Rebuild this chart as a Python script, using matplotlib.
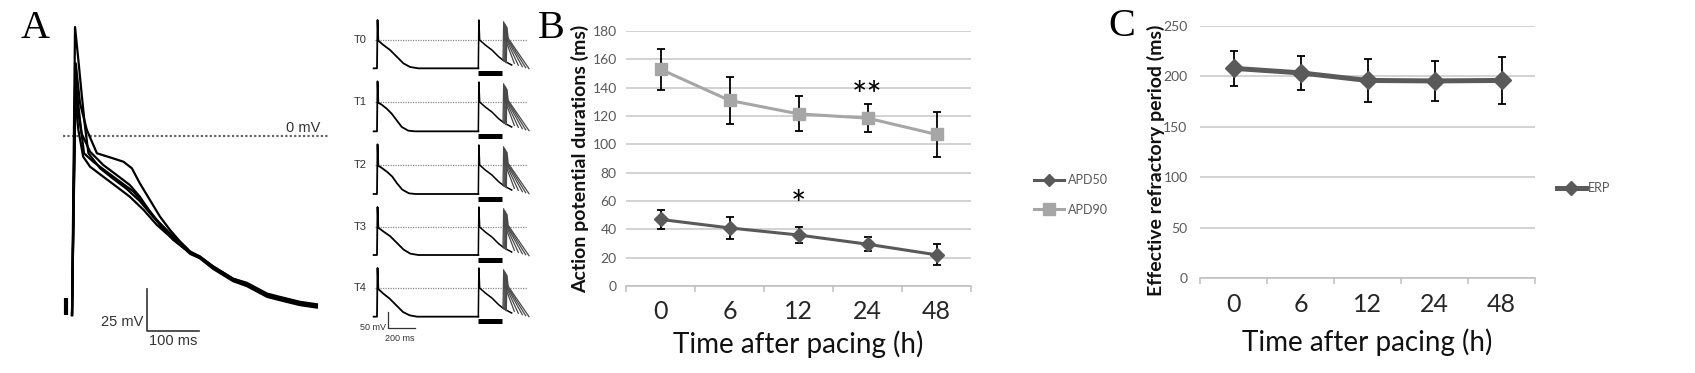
import matplotlib
matplotlib.use("Agg")
import matplotlib.pyplot as plt
from matplotlib.lines import Line2D
import numpy as np

W, H = 1695, 373

# ---- panel B / C data ----
hours = ["0", "6", "12", "24", "48"]
apd50 = [47, 41, 36, 29.5, 22]
apd50_err = [7, 7.6, 5.7, 5, 7.5]
apd90 = [153, 131, 121.5, 118.5, 107]
apd90_err = [14.5, 16.5, 12.3, 10, 15.7]
erp = [208, 203.5, 196, 195.5, 196]
erp_err = [17.5, 16.5, 21.5, 20, 23]

# ---- panel A, superimposed action potentials (ms, mV) ----
ap_tall_t = [0, 5.7, 12, 18, 24.5, 31, 53, 78, 103, 128, 153, 185, 223, 241, 266, 304, 330, 368, 392, 430, 462]
ap_tall_v = [-108.5, 66, 46, 26, 5.6, -10.5, -19.6, -26, -32, -39.5, -49, -60, -71.5, -74, -80, -87.5, -90.5, -97, -99, -102, -103]
ap_high_t = [0, 7, 15, 28, 47, 72, 97, 113, 128, 147, 166, 185, 204, 223, 241, 266, 304, 330, 368, 392, 430, 462]
ap_high_v = [-108.5, 44, 20, 3.6, -10.5, -13, -15.6, -19.6, -28.7, -38.8, -48.9, -57, -64, -70, -73, -79, -86.5, -89, -95.5, -97.5, -100.5, -102]
ap_mid_t = [0, 5.7, 12, 18, 34, 59, 84, 109, 128, 147, 166, 191, 223, 241, 266, 304, 330, 368, 392, 430, 462]
ap_mid_v = [-108.5, 30, 13.7, 1.6, -9.5, -17.6, -23.6, -29.7, -36.8, -45.9, -53.9, -63, -71, -73.5, -79.5, -87, -90, -96.5, -98.5, -101.5, -103]
ap_low1_t = [0, 5.7, 12, 21, 34, 59, 84, 109, 135, 160, 185, 223, 241, 266, 304, 330, 368, 392, 430, 462]
ap_low1_v = [-108.5, 23.8, 3.6, -12.5, -18.6, -24.7, -30.7, -36.8, -44.8, -53.9, -61, -71, -74, -80.5, -88, -91, -97.5, -99.5, -102.5, -104]
ap_low2_t = [0, 7, 15, 22.6, 40, 65, 90.6, 116, 135, 160, 185, 223, 241, 266, 304, 330, 368, 392, 430, 462]
ap_low2_v = [-108.5, 34, 9.7, -10.5, -15.6, -21.6, -27.7, -33.7, -40.8, -50.9, -59, -70.5, -73, -79, -86.5, -89.5, -96, -98, -101, -102.5]

# ---- panel A, S1-S2 protocol rows ----
row_names = ["T0", "T1", "T2", "T3", "T4"]
row_rest = [-85, -88, -87, -84, -86]
row_ap_t = [
    [-25, 0, 4, 10, 48, 98, 148, 198, 248, 311, 760],
    [-25, 0, 4, 10, 35, 73, 110, 148, 186, 235, 285, 760],
    [-25, 0, 4, 10, 40, 80, 115, 150, 190, 240, 290, 760],
    [-25, 0, 4, 10, 50, 100, 150, 200, 250, 310, 760],
    [-25, 0, 4, 10, 45, 95, 145, 195, 245, 300, 760],
]
row_ap_v = [
    [-85, -85, 60, -2, -15, -30, -50, -70, -81, -85, -85],
    [-88, -88, 62, -2, -8, -20, -35, -55, -75, -86, -88, -88],
    [-87, -87, 62, -2, -10, -22, -35, -55, -74, -85, -87, -87],
    [-84, -84, 60, -2, -14, -28, -48, -68, -80, -84, -84],
    [-86, -86, 60, -3, -16, -32, -52, -72, -82, -86, -86],
]
s1_t = [760, 764, 770, 812, 862, 912, 950, 1010]
s1_v = [None, 60, 0, -15, -30, -50, -62, -75]
s2_start = [945, 952, 958, 964, 970]
s2_start_v = [-60, -62, -64, -66, -68]
s2_peak = [55, 50, 46, 42, 38]
s2_end = [1030, 1060, 1090, 1115, 1140]
s2_end_v = [-70, -76, -80, -83, -86]
row_dash_y = [40, 102, 165, 227, 288]   # pixel row of the 0 mV line

SANS = "Lato"
SERIF = "Liberation Serif"
ARIAL = "Liberation Sans"


def rect(x0, y0, x1, y1):
    return [x0 / W, 1 - y1 / H, (x1 - x0) / W, (y1 - y0) / H]


fig = plt.figure(figsize=(W / 100, H / 100), dpi=100)
fig.patch.set_facecolor("white")

# panel letters
for letter, px, py in [("A", 35, 28), ("B", 551, 28), ("C", 1122, 27)]:
    fig.text(px / W, 1 - py / H, letter, family=SERIF, fontsize=29,
             ha="center", va="center")

# ---------- panel A main ----------
axA = fig.add_axes(rect(55, 15, 335, 350))
axA.set_xlim(-32.1, 496.2)
axA.set_ylim(-129.7, 73.3)
axA.axis("off")
axA.plot([-17, 483], [0, 0], ls=(0, (1, 1)), color="#666666", lw=1.6)
axA.text(468, 5, "0 mV", family=ARIAL, fontsize=10.5, color="#333333",
         ha="right", va="center")
for tt, vv in [(ap_tall_t, ap_tall_v), (ap_high_t, ap_high_v), (ap_mid_t, ap_mid_v),
               (ap_low1_t, ap_low1_v), (ap_low2_t, ap_low2_v)]:
    axA.plot(tt, vv, color="black", lw=1.6, solid_joinstyle="round")
axA.plot([-12, -12], [-98, -108.5], color="black", lw=3, solid_capstyle="butt")
# scale bar
axA.plot([141.5, 141.5, 239.6], [-92.7, -118, -118], color="#333333", lw=1.2)
axA.text(134, -113, "25 mV", family=ARIAL, fontsize=10.5, color="#333333",
         ha="right", va="center")
axA.text(190, -124.5, "100 ms", family=ARIAL, fontsize=10.5, color="#333333",
         ha="center", va="center", clip_on=False)

# ---------- panel A rows ----------
for i, name in enumerate(row_names):
    dy = row_dash_y[i]
    ax = fig.add_axes(rect(365, dy - 25, 540, dy + 36.67))
    ax.set_xlim(-90, 1222.5)
    ax.set_ylim(-110, 75)
    ax.axis("off")
    rest = row_rest[i]
    ax.plot([-15, 1125], [0, 0], ls=(0, (1, 1)), color="#888888", lw=0.9)
    ax.plot(row_ap_t[i], row_ap_v[i], color="black", lw=1.3)
    v1 = [rest] + s1_v[1:]
    ax.plot(s1_t, v1, color="black", lw=1.1)
    for s, sv, pk, e, ev in zip(s2_start, s2_start_v, s2_peak, s2_end, s2_end_v):
        ax.plot([s, s + 5, s + 14, e], [sv, pk, 5, ev], color="#4a4a4a", lw=0.9)
    ax.plot([757, 940], [rest - 14, rest - 14], color="black", lw=3.6,
            solid_capstyle="butt")
    ax.text(-75, 0, name, family=ARIAL, fontsize=8, color="#333333",
            ha="right", va="center", clip_on=False)
    if i == len(row_names) - 1:
        ax.plot([85, 85, 285], [-71, -121, -121], color="#333333", lw=0.9,
                clip_on=False)
        ax.text(71, -117, "50 mV", family=ARIAL, fontsize=6.5, color="#333333",
                ha="right", va="center", clip_on=False)
        ax.text(170, -150, "200 ms", family=ARIAL, fontsize=6.5, color="#333333",
                ha="center", va="center", clip_on=False)


def style_excel(ax, ymax, ystep, ylabel, label_x, label_y, ypad, xpad):
    x = np.arange(len(hours))
    ax.set_xlim(-0.5, len(hours) - 0.5)
    ax.set_ylim(0, ymax)
    ax.set_yticks(np.arange(0, ymax + 1, ystep))
    ax.set_xticks(x, hours)
    ax.set_xticks(np.arange(-0.5, len(hours), 1), minor=True)
    ax.grid(axis="y", color="#c6c6c6", lw=1.1)
    ax.set_axisbelow(True)
    for s in ["top", "right", "left"]:
        ax.spines[s].set_visible(False)
    ax.spines["bottom"].set_color("#bfbfbf")
    ax.spines["bottom"].set_linewidth(1.1)
    ax.tick_params(axis="y", length=0, pad=ypad, labelsize=10, labelcolor="#595959")
    ax.tick_params(axis="x", which="major", length=0, pad=xpad, labelsize=18,
                   labelcolor="#262626")
    ax.tick_params(axis="x", which="minor", length=4, color="#bfbfbf", width=1.1)
    for lab in ax.get_xticklabels() + ax.get_yticklabels():
        lab.set_family(SANS)
    ax.text(label_x, label_y, ylabel,
            transform=ax.transAxes, rotation=90, ha="center", va="center",
            family=SANS, fontweight="bold", fontsize=14, color="#111111")


# ---------- panel B ----------
axB = fig.add_axes(rect(626, 31, 971, 286))
xb = np.arange(len(hours))
axB.errorbar(xb, apd90, yerr=apd90_err, color="#a6a6a6", lw=2.2, marker="s", ms=9,
             ecolor="black", elinewidth=1.3, capsize=2.9, capthick=1.3, zorder=3)
axB.errorbar(xb, apd50, yerr=apd50_err, color="#595959", lw=2.2, marker="D", ms=7,
             ecolor="black", elinewidth=1.3, capsize=2.9, capthick=1.3, zorder=3)
style_excel(axB, 180, 20, "Action potential durations (ms)",
            (580 - 626) / 345, 0.5, 6.7, 10)
axB.text(3, 126, "**", family=SANS, fontsize=26, ha="center", va="baseline")
axB.text(2, 48.5, "*", family=SANS, fontsize=26, ha="center", va="baseline")
axB.text(0.5, (286 - 344) / 255, "Time after pacing (h)", transform=axB.transAxes,
         family=SANS, fontsize=20, ha="center", va="center", color="#111111")
hB = [Line2D([], [], color="#595959", lw=2.2, marker="D", ms=6),
      Line2D([], [], color="#a6a6a6", lw=2.2, marker="s", ms=8)]
legB = fig.legend(hB, ["APD50", "APD90"], loc="center left",
                  bbox_to_anchor=(1034 / W, 1 - 195 / H), frameon=False,
                  borderpad=0, borderaxespad=0, handlelength=2.4, handletextpad=0.3,
                  labelspacing=1.4, prop={"family": SANS, "size": 9})
for t in legB.get_texts():
    t.set_color("#595959")

# ---------- panel C ----------
axC = fig.add_axes(rect(1200, 26, 1535, 278))
axC.errorbar(xb, erp, yerr=erp_err, color="#5a5a5a", lw=3.6, marker="D", ms=9,
             ecolor="black", elinewidth=1.3, capsize=2.9, capthick=1.3, zorder=3)
style_excel(axC, 250, 50, "Effective refractory period (ms)",
            (1156 - 1200) / 335, 1 - (160 - 26) / 252, 9, 11)
axC.text(0.5, (278 - 342) / 252, "Time after pacing (h)", transform=axC.transAxes,
         family=SANS, fontsize=20, ha="center", va="center", color="#111111")
hC = [Line2D([], [], color="#5a5a5a", lw=3.6, marker="D", ms=7)]
legC = fig.legend(hC, ["ERP"], loc="center left",
                  bbox_to_anchor=(1557 / W, 1 - 188 / H), frameon=False,
                  borderpad=0, borderaxespad=0, handlelength=2.3, handletextpad=0.2,
                  prop={"family": SANS, "size": 9})
for t in legC.get_texts():
    t.set_color("#595959")

fig.savefig("out.png", dpi=100, facecolor="white")
